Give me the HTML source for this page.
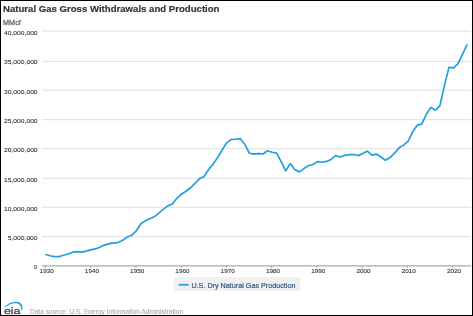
<!DOCTYPE html>
<html><head><meta charset="utf-8"><style>
html,body{margin:0;padding:0;background:#fff;}
body{width:473px;height:316px;overflow:hidden;position:relative;font-family:"Liberation Sans",sans-serif;}
svg{position:absolute;left:0;top:0;will-change:transform;}
text{font-family:"Liberation Sans",sans-serif;}
</style></head><body>
<svg width="473" height="316" viewBox="0 0 473 316">
<rect x="0" y="0" width="473" height="316" fill="#fff"/>
<text x="3" y="11.5" font-weight="bold" font-size="9.6" fill="#333" stroke="#333" stroke-width="0.18" textLength="216.5" lengthAdjust="spacingAndGlyphs">Natural Gas Gross Withdrawals and Production</text>
<text x="3.0" y="24.7" font-size="7" fill="#707070" stroke="#707070" stroke-width="0.3" textLength="17.8" lengthAdjust="spacingAndGlyphs">MMcf</text>
<g stroke="#e5e5e5" stroke-width="1.3">
<line x1="42" y1="236.5" x2="471" y2="236.5"/>
<line x1="42" y1="207.3" x2="471" y2="207.3"/>
<line x1="42" y1="178.4" x2="471" y2="178.4"/>
<line x1="42" y1="148.7" x2="471" y2="148.7"/>
<line x1="42" y1="119.7" x2="471" y2="119.7"/>
<line x1="42" y1="90.2" x2="471" y2="90.2"/>
<line x1="42" y1="61.3" x2="471" y2="61.3"/>
<line x1="42" y1="31.06" x2="471" y2="31.06"/>
</g>
<line x1="41.8" y1="265.9" x2="471" y2="265.9" stroke="#aaa" stroke-width="1.4"/>
<g stroke="#999" stroke-width="1">
<line x1="45.30" y1="266" x2="45.30" y2="267.8"/>
<line x1="90.56" y1="266" x2="90.56" y2="267.8"/>
<line x1="135.82" y1="266" x2="135.82" y2="267.8"/>
<line x1="181.08" y1="266" x2="181.08" y2="267.8"/>
<line x1="226.34" y1="266" x2="226.34" y2="267.8"/>
<line x1="271.60" y1="266" x2="271.60" y2="267.8"/>
<line x1="316.86" y1="266" x2="316.86" y2="267.8"/>
<line x1="362.12" y1="266" x2="362.12" y2="267.8"/>
<line x1="407.38" y1="266" x2="407.38" y2="267.8"/>
<line x1="452.64" y1="266" x2="452.64" y2="267.8"/>
</g>
<g font-size="5.9" fill="#333" stroke="#333" stroke-width="0.1">
<text x="37.1" y="268.88" text-anchor="end">0</text>
<text x="37.6" y="240.13" text-anchor="end" textLength="29.87" lengthAdjust="spacingAndGlyphs">5,000,000</text>
<text x="37.6" y="210.83" text-anchor="end" textLength="33.60" lengthAdjust="spacingAndGlyphs">10,000,000</text>
<text x="37.6" y="181.53" text-anchor="end" textLength="33.60" lengthAdjust="spacingAndGlyphs">15,000,000</text>
<text x="37.6" y="152.23" text-anchor="end" textLength="33.60" lengthAdjust="spacingAndGlyphs">20,000,000</text>
<text x="37.6" y="122.94" text-anchor="end" textLength="33.60" lengthAdjust="spacingAndGlyphs">25,000,000</text>
<text x="37.6" y="93.64" text-anchor="end" textLength="33.60" lengthAdjust="spacingAndGlyphs">30,000,000</text>
<text x="37.6" y="64.34" text-anchor="end" textLength="33.60" lengthAdjust="spacingAndGlyphs">35,000,000</text>
<text x="37.6" y="35.04" text-anchor="end" textLength="33.60" lengthAdjust="spacingAndGlyphs">40,000,000</text>
<text x="46.70" y="273.3" text-anchor="middle" textLength="14.2" lengthAdjust="spacingAndGlyphs">1930</text>
<text x="91.96" y="273.3" text-anchor="middle" textLength="14.2" lengthAdjust="spacingAndGlyphs">1940</text>
<text x="137.22" y="273.3" text-anchor="middle" textLength="14.2" lengthAdjust="spacingAndGlyphs">1950</text>
<text x="182.48" y="273.3" text-anchor="middle" textLength="14.2" lengthAdjust="spacingAndGlyphs">1960</text>
<text x="227.74" y="273.3" text-anchor="middle" textLength="14.2" lengthAdjust="spacingAndGlyphs">1970</text>
<text x="273.00" y="273.3" text-anchor="middle" textLength="14.2" lengthAdjust="spacingAndGlyphs">1980</text>
<text x="318.26" y="273.3" text-anchor="middle" textLength="14.2" lengthAdjust="spacingAndGlyphs">1990</text>
<text x="363.52" y="273.3" text-anchor="middle" textLength="14.2" lengthAdjust="spacingAndGlyphs">2000</text>
<text x="408.78" y="273.3" text-anchor="middle" textLength="14.2" lengthAdjust="spacingAndGlyphs">2010</text>
<text x="454.04" y="273.3" text-anchor="middle" textLength="14.2" lengthAdjust="spacingAndGlyphs">2020</text>
</g>
<polyline points="45.35,254.27 49.89,255.78 54.42,256.54 58.95,256.58 63.49,255.28 68.03,254.01 72.56,252.19 77.09,251.55 81.63,252.20 86.16,251.14 90.70,249.85 95.24,248.95 99.77,247.22 104.31,245.10 108.84,243.91 113.38,242.91 117.91,242.57 122.44,240.42 126.98,237.21 131.52,235.29 136.05,231.23 140.59,223.96 145.12,220.89 149.66,218.76 154.19,216.82 158.72,213.07 163.26,209.36 167.80,205.91 172.33,204.03 176.87,198.16 181.40,194.32 185.94,191.25 190.47,187.78 195.00,183.49 199.54,178.63 204.07,176.41 208.61,169.47 213.15,164.09 217.68,157.60 222.22,149.77 226.75,142.84 231.28,139.35 235.82,139.27 240.35,138.64 244.89,144.61 249.43,153.26 253.96,154.07 258.50,153.69 263.03,153.93 267.56,150.76 272.10,152.28 276.63,153.06 281.17,161.56 285.71,170.82 290.24,163.63 294.78,169.56 299.31,171.88 303.85,168.58 308.38,165.76 312.92,164.54 317.45,161.62 321.99,162.27 326.52,161.44 331.06,159.41 335.59,155.69 340.13,156.99 344.66,155.32 349.20,154.68 353.73,154.50 358.27,155.63 362.80,153.58 367.34,151.03 371.87,155.06 376.41,154.06 380.94,157.04 385.48,160.20 390.01,157.55 394.55,153.08 399.08,147.85 403.62,145.13 408.15,141.07 412.69,131.78 417.22,125.15 421.76,124.14 426.29,114.27 430.83,107.38 435.36,110.16 439.90,105.77 444.43,85.65 448.97,67.34 453.50,67.96 458.04,63.71 462.57,54.15 467.11,44.48" fill="none" stroke="#22a0dc" stroke-width="1.7" stroke-linejoin="round"/>
<rect x="173.7" y="277.3" width="126.5" height="13.6" fill="#f0f0f0"/>
<line x1="178.6" y1="284.8" x2="188.7" y2="284.8" stroke="#22a0dc" stroke-width="1.7"/>
<text x="191.4" y="287.5" font-size="7.2" fill="#375a84" stroke="#375a84" stroke-width="0.22" textLength="104" lengthAdjust="spacingAndGlyphs">U.S. Dry Natural Gas Production</text>
<path d="M4.2,306.8 C8,303.6 12.5,301.6 16.8,301.8 C20.3,302 22.9,304.6 22.5,309.2 L21.4,311 C21.6,306.3 19.6,303.6 16.3,303.2 C12.3,302.9 8,304.7 4.7,307.5 Z" fill="#22a0dc"/>
<text x="3.9" y="313.7" font-size="9.8" fill="#444" stroke="#444" stroke-width="0.3" textLength="16.4" lengthAdjust="spacingAndGlyphs">eia</text>
<text x="29.9" y="314" font-size="6.6" fill="#aaa" stroke="#aaa" stroke-width="0.1" textLength="153.3" lengthAdjust="spacingAndGlyphs">Data source: U.S. Energy Information Administration</text>
<rect x="0.5" y="0.5" width="472" height="315" fill="none" stroke="#000" stroke-width="1"/>
</svg>
</body></html>
